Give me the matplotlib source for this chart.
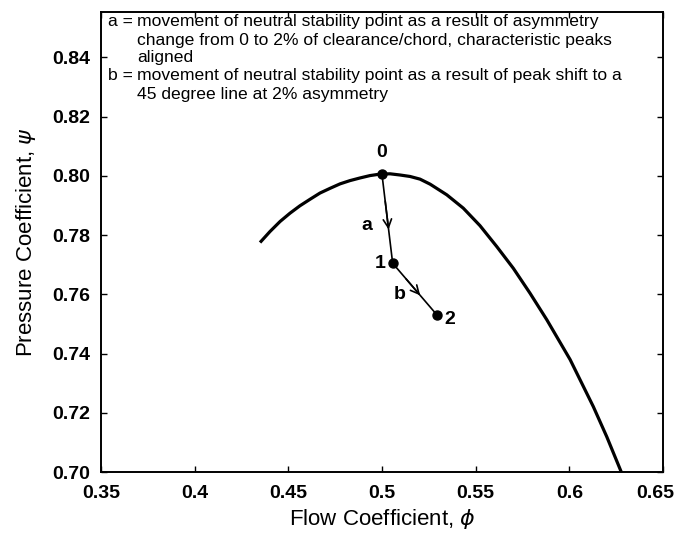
import matplotlib
matplotlib.use("Agg")
import matplotlib.pyplot as plt
import matplotlib.transforms as mtransforms

# characteristic curve
curve_phi = [0.4349, 0.4402, 0.4456, 0.4509, 0.4562, 0.4616, 0.4669, 0.4723,
             0.4776, 0.4829, 0.4883, 0.4936, 0.4990, 0.5043, 0.5096, 0.5150,
             0.5203, 0.5257, 0.5346, 0.5434, 0.5523, 0.5613, 0.5701, 0.5790,
             0.5880, 0.6004, 0.6128, 0.6200, 0.6280]
curve_psi = [0.7775, 0.7812, 0.7846, 0.7874, 0.7899, 0.7921, 0.7942, 0.7958,
             0.7973, 0.7984, 0.7993, 0.8001, 0.8006, 0.8007, 0.8003, 0.7998,
             0.7989, 0.7972, 0.7936, 0.7891, 0.7832, 0.7761, 0.7688, 0.7604,
             0.7514, 0.7380, 0.7221, 0.7119, 0.6996]

# neutral stability points
pt_labels = ["0", "1", "2"]
pt_phi = [0.500, 0.5057, 0.5294]
pt_psi = [0.8005, 0.7705, 0.753]

xticks = [0.35, 0.4, 0.45, 0.5, 0.55, 0.6, 0.65]
xticklabels = ["0.35", "0.4", "0.45", "0.5", "0.55", "0.6", "0.65"]
yticks = [0.70, 0.72, 0.74, 0.76, 0.78, 0.80, 0.82, 0.84]
yticklabels = ["0.70", "0.72", "0.74", "0.76", "0.78", "0.80", "0.82", "0.84"]

note_lines = [
    ("a =", "movement of neutral stability point as a result of asymmetry"),
    ("", "change from 0 to 2% of clearance/chord, characteristic peaks"),
    ("", "aligned"),
    ("b =", "movement of neutral stability point as a result of peak shift to a"),
    ("", "45 degree line at 2% asymmetry"),
]

plt.rcParams['font.family'] = ['Liberation Sans', 'DejaVu Sans']
narrow = ['Liberation Sans Narrow', 'Liberation Sans', 'DejaVu Sans']

fig = plt.figure(figsize=(6.75, 5.37), dpi=100)
ax = fig.add_axes([0.1496, 0.121, 0.8326, 0.857])

ax.plot(curve_phi, curve_psi, color='black', lw=2.3, solid_capstyle='butt',
        solid_joinstyle='round')

# segments 0->1 and 1->2 with arrowheads part way
for i in range(2):
    x0, y0 = pt_phi[i], pt_psi[i]
    x1, y1 = pt_phi[i + 1], pt_psi[i + 1]
    ax.plot([x0, x1], [y0, y1], color='black', lw=1.2)
    f = 0.62
    ax.annotate("", xy=(x0 + f * (x1 - x0), y0 + f * (y1 - y0)),
                xytext=(x0 + 0.3 * (x1 - x0), y0 + 0.3 * (y1 - y0)),
                arrowprops=dict(arrowstyle='->', color='black', lw=1.2,
                                mutation_scale=15, shrinkA=0, shrinkB=0))

ax.plot(pt_phi, pt_psi, 'o', color='black', ms=6.5, zorder=5)

lbl_kw = dict(fontsize=14, fontweight='bold')
ax.text(pt_phi[0], pt_psi[0] + 0.0045, pt_labels[0], ha='center', va='bottom', **lbl_kw)
ax.text(pt_phi[1] - 0.004, pt_psi[1], pt_labels[1], ha='right', va='center', **lbl_kw)
ax.text(pt_phi[2] + 0.004, pt_psi[2] - 0.0015, pt_labels[2], ha='left', va='center', **lbl_kw)
ax.text(0.492, 0.7834, "a", ha='center', va='center', **lbl_kw)
ax.text(0.5096, 0.7598, "b", ha='center', va='center', **lbl_kw)

ys = [0.978, 0.937, 0.900, 0.861, 0.8196]
for (lab, txt), yy in zip(note_lines, ys):
    if lab:
        ax.text(0.0125, yy, lab, transform=ax.transAxes, ha='left', va='center',
                fontsize=12.6, family=narrow)
    ax.text(0.064, yy, txt, transform=ax.transAxes, ha='left', va='center',
            fontsize=12.6, family=narrow)

ax.set_xlim(0.35, 0.65)
ax.set_ylim(0.70, 0.8554)
ax.set_xticks(xticks)
ax.set_xticklabels(xticklabels, fontsize=14, fontweight='bold')
ax.set_yticks(yticks)
ax.set_yticklabels(yticklabels, fontsize=14, fontweight='bold')
ax.tick_params(direction='in', length=4, width=1, top=True, right=True)
ax.tick_params(axis='x', pad=9)
ax.tick_params(axis='y', pad=8)
for s in ax.spines.values():
    s.set_linewidth(1.4)

# last x tick label sits slightly left of its tick, as in the original
last = ax.get_xticklabels()[-1]
last.set_transform(last.get_transform() +
                   mtransforms.ScaledTranslation(-8 / 100, 0, fig.dpi_scale_trans))

ax.set_xlabel("Flow Coefficient, $\\phi$", fontsize=16, labelpad=4)
ax.set_ylabel("Pressure Coefficient, $\\psi$", fontsize=16, labelpad=10)

fig.savefig("out.png", dpi=100)
